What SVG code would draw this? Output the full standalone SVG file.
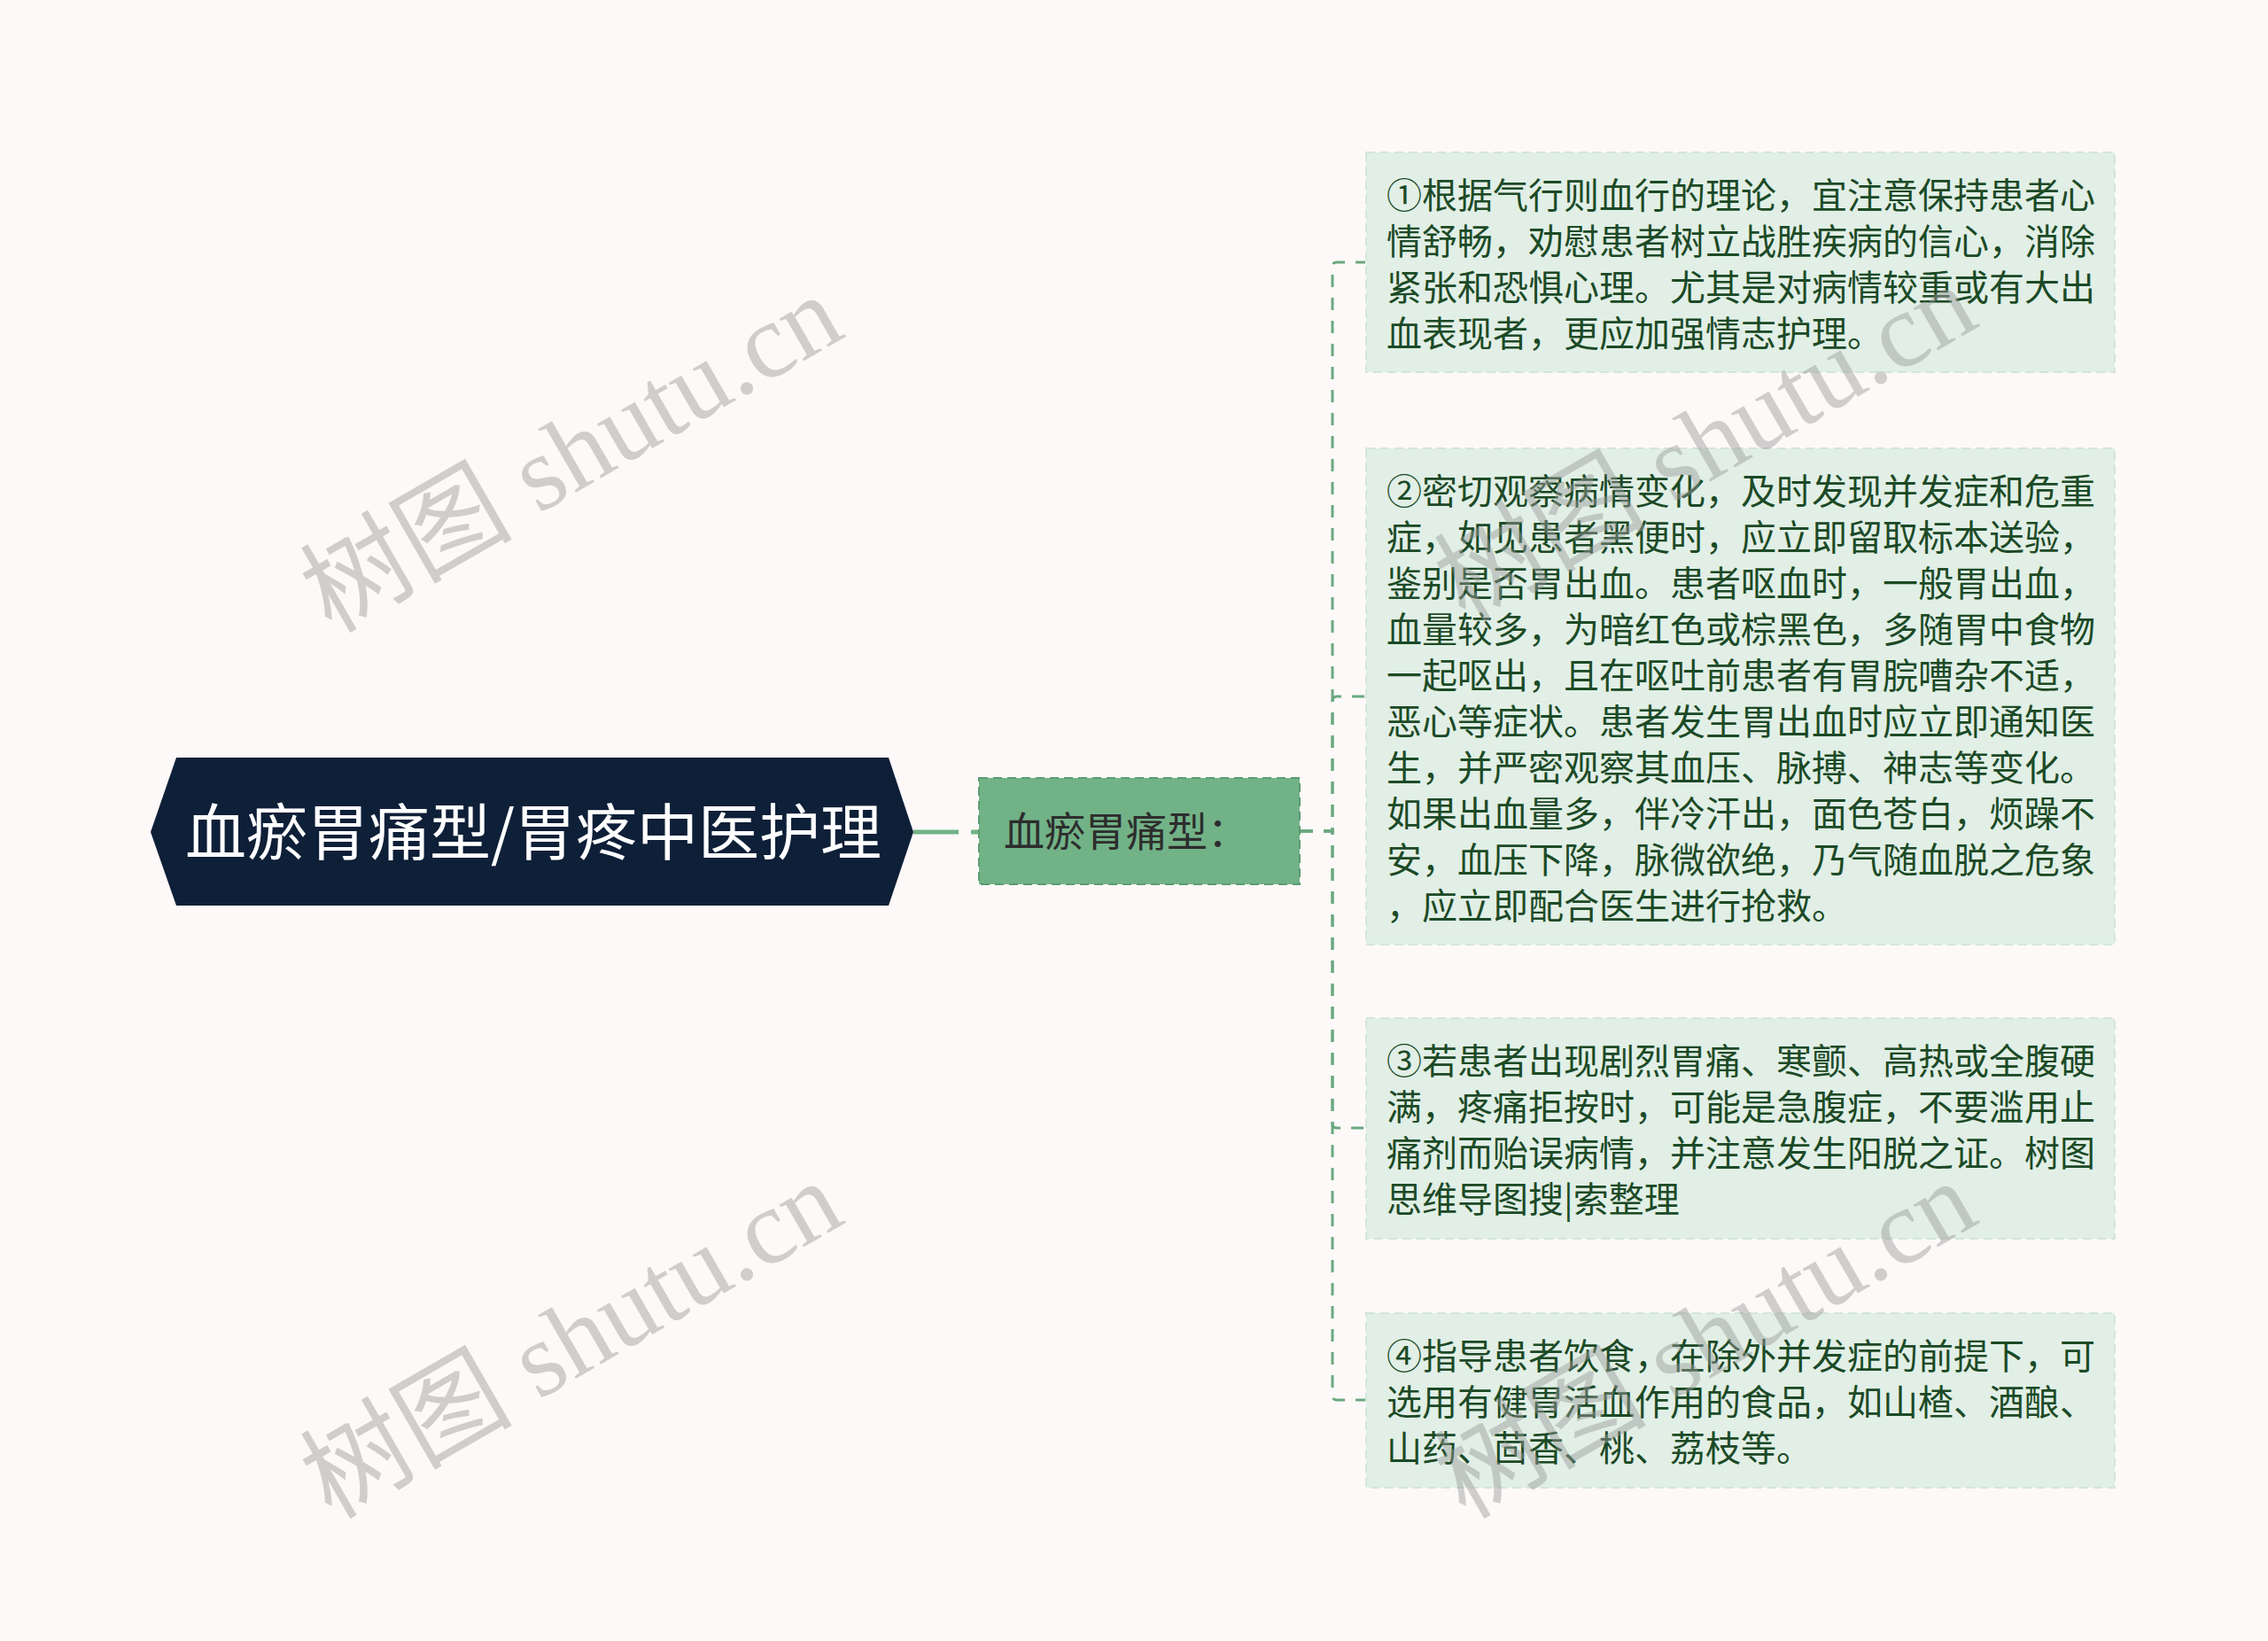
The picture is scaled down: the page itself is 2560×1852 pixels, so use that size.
<svg xmlns="http://www.w3.org/2000/svg" width="2560" height="1852" viewBox="0 0 2560 1852">
<style>
.bg{fill:#fdf9f8}
.root{fill:#0e1f38}
.roott{font-family:"Noto Sans CJK SC","Noto Sans",sans-serif;font-size:69px;fill:#ffffff;dominant-baseline:central;text-anchor:middle}
.mid{fill:#72b287;stroke:#5c9b71;stroke-width:2;stroke-dasharray:10 6}
.midt{font-family:"Noto Sans CJK SC","Noto Sans",sans-serif;font-size:46px;fill:#2d2d2d;dominant-baseline:central}
.leaf{fill:#e1efe6;stroke:#d3e6da;stroke-width:2;stroke-dasharray:10 6}
.leaft{font-family:"Noto Sans CJK SC","Noto Sans",sans-serif;font-size:40px;fill:#1c4a26;dominant-baseline:central}
.conn{fill:none;stroke:#6aa87f;stroke-width:3;stroke-dasharray:14 12}
.wm{font-family:"Liberation Serif","Noto Sans CJK SC",serif;font-size:120px;fill:#9a9a9a;opacity:0.45;text-anchor:middle;dominant-baseline:central}
</style>
<rect class="bg" x="0" y="0" width="2560" height="1852"/>
<g id="connectors">
<path d="M1031,939 H1104" fill="none" stroke="#72b287" stroke-width="5" stroke-dasharray="51 14"/>
<path class="conn" d="M1468,938 H1504 V301 Q1504,296 1509,296 H1541"/>
<path class="conn" d="M1468,938 H1504 V791 Q1504,786 1509,786 H1541"/>
<path class="conn" d="M1468,938 H1504 V1268 Q1504,1273 1509,1273 H1541"/>
<path class="conn" d="M1468,938 H1504 V1575 Q1504,1580 1509,1580 H1541"/>
</g>
<g id="root">
<polygon class="root" points="170,939 199,855 1003,855 1031,939 1003,1022 199,1022"/>
<text class="roott" x="602" y="935">血瘀胃痛型/胃疼中医护理</text>
</g>
<g id="mid">
<rect class="mid" x="1105" y="878" width="362" height="120"/>
<text class="midt" x="1133" y="935">血瘀胃痛型：</text>
</g>
<g id="leaf1">
<rect class="leaf" x="1542" y="172" width="845" height="248"/>
<text class="leaft" x="1565" y="218">①根据气行则血行的理论，宜注意保持患者心</text>
<text class="leaft" x="1565" y="270">情舒畅，劝慰患者树立战胜疾病的信心，消除</text>
<text class="leaft" x="1565" y="322">紧张和恐惧心理。尤其是对病情较重或有大出</text>
<text class="leaft" x="1565" y="374">血表现者，更应加强情志护理。</text>
</g>
<g id="leaf2">
<rect class="leaf" x="1542" y="506" width="845" height="560"/>
<text class="leaft" x="1565" y="552">②密切观察病情变化，及时发现并发症和危重</text>
<text class="leaft" x="1565" y="604">症，如见患者黑便时，应立即留取标本送验，</text>
<text class="leaft" x="1565" y="656">鉴别是否胃出血。患者呕血时，一般胃出血，</text>
<text class="leaft" x="1565" y="708">血量较多，为暗红色或棕黑色，多随胃中食物</text>
<text class="leaft" x="1565" y="760">一起呕出，且在呕吐前患者有胃脘嘈杂不适，</text>
<text class="leaft" x="1565" y="812">恶心等症状。患者发生胃出血时应立即通知医</text>
<text class="leaft" x="1565" y="864">生，并严密观察其血压、脉搏、神志等变化。</text>
<text class="leaft" x="1565" y="916">如果出血量多，伴冷汗出，面色苍白，烦躁不</text>
<text class="leaft" x="1565" y="968">安，血压下降，脉微欲绝，乃气随血脱之危象</text>
<text class="leaft" x="1565" y="1020">，应立即配合医生进行抢救。</text>
</g>
<g id="leaf3">
<rect class="leaf" x="1542" y="1149" width="845" height="249"/>
<text class="leaft" x="1565" y="1195">③若患者出现剧烈胃痛、寒颤、高热或全腹硬</text>
<text class="leaft" x="1565" y="1247">满，疼痛拒按时，可能是急腹症，不要滥用止</text>
<text class="leaft" x="1565" y="1299">痛剂而贻误病情，并注意发生阳脱之证。树图</text>
<text class="leaft" x="1565" y="1351">思维导图搜|索整理</text>
</g>
<g id="leaf4">
<rect class="leaf" x="1542" y="1482" width="845" height="197"/>
<text class="leaft" x="1565" y="1528">④指导患者饮食，在除外并发症的前提下，可</text>
<text class="leaft" x="1565" y="1580">选用有健胃活血作用的食品，如山楂、酒酿、</text>
<text class="leaft" x="1565" y="1632">山药、茴香、桃、荔枝等。</text>
</g>
<g id="watermarks">
<text class="wm" transform="translate(645,512) rotate(-30)">树图 shutu.cn</text>
<text class="wm" transform="translate(645,1512) rotate(-30)">树图 shutu.cn</text>
<text class="wm" transform="translate(1925,500) rotate(-30)">树图 shutu.cn</text>
<text class="wm" transform="translate(1925,1512) rotate(-30)">树图 shutu.cn</text>
</g>
</svg>
